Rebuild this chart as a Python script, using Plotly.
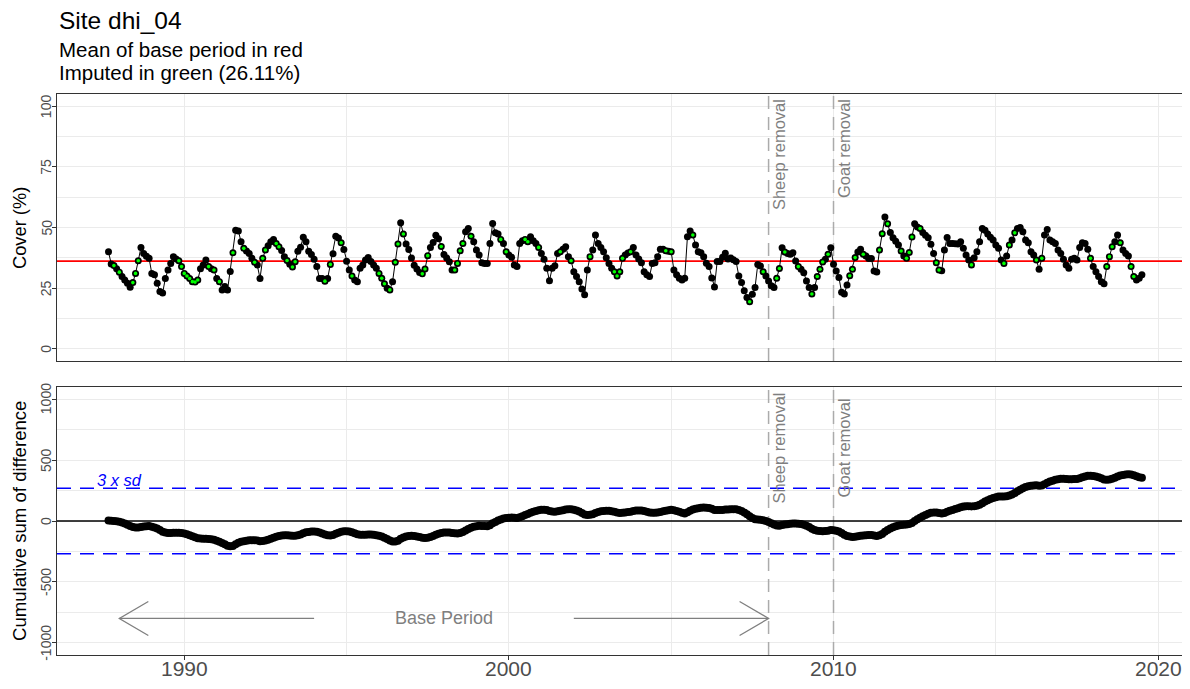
import numpy as np
import plotly.graph_objects as go

# ---------------- data ----------------
SITE = "dhi_04"
START_YEAR, START_MONTH = 1987, 9          # first monthly observation
COVER = [
    40.0, 35.0, 34.3, 33.0, 31.6, 29.8, 28.4, 27.0, 25.4, 27.3,
    31.1, 36.3, 41.8, 39.3, 38.2, 37.3, 31.1, 30.5, 27.0, 23.6,
    23.0, 29.0, 32.5, 35.2, 38.0, 37.0, 36.3, 33.9, 31.1, 30.0,
    29.0, 27.7, 27.5, 28.4, 33.0, 34.6, 36.6, 33.9, 33.0, 32.5,
    29.0, 27.7, 24.3, 25.7, 24.3, 31.9, 39.6, 48.9, 48.6, 44.1,
    41.4, 40.3, 39.3, 37.3, 35.7, 34.5, 29.0, 37.3, 40.7, 42.5,
    44.1, 45.1, 43.4, 42.1, 40.5, 38.0, 36.4, 34.9, 33.7, 35.9,
    40.2, 41.9, 46.0, 44.1, 40.2, 38.9, 36.9, 33.9, 29.0, 29.0,
    27.9, 29.0, 34.8, 39.2, 46.4, 45.7, 43.7, 40.9, 36.1, 32.5,
    30.0, 28.4, 27.7, 33.2, 34.6, 36.6, 37.6, 36.0, 34.6, 33.2,
    31.1, 29.1, 26.8, 25.0, 24.3, 27.7, 35.7, 43.2, 52.0, 47.3,
    43.2, 40.9, 37.4, 34.4, 32.9, 31.5, 30.9, 32.9, 38.4, 41.8,
    43.8, 46.8, 45.4, 42.2, 38.9, 37.4, 35.9, 32.5, 32.5, 35.2,
    40.4, 43.4, 48.2, 49.6, 46.4, 44.1, 40.7, 38.7, 35.5, 35.2,
    35.2, 43.4, 51.6, 47.8, 47.3, 45.1, 43.4, 40.0, 38.7, 37.7,
    34.6, 33.9, 43.4, 44.5, 45.1, 44.1, 46.2, 44.5, 43.4, 41.8,
    39.3, 36.9, 33.2, 28.1, 33.2, 34.2, 39.3, 40.0, 41.0, 42.1,
    38.0, 36.3, 31.8, 29.8, 27.7, 24.7, 22.3, 32.5, 38.0, 40.7,
    46.9, 43.4, 41.8, 40.0, 37.5, 35.2, 33.2, 31.8, 30.0, 31.8,
    37.3, 38.7, 39.5, 40.0, 41.8, 38.7, 37.0, 35.5, 31.8, 30.5,
    29.8, 35.2, 35.5, 38.0, 41.0, 41.0, 40.4, 40.2, 40.0, 32.5,
    30.5, 29.1, 28.4, 29.1, 46.2, 48.6, 46.9, 42.8, 40.0, 39.6,
    38.0, 35.3, 33.9, 29.2, 25.5, 36.0, 36.0, 37.7, 39.4, 37.0,
    37.4, 36.7, 36.0, 30.0, 27.3, 23.9, 21.2, 19.4, 22.5, 25.3,
    34.8, 34.1, 31.8, 30.0, 28.0, 26.0, 25.3, 29.1, 33.1, 41.7,
    39.9, 39.3, 39.0, 39.6, 36.2, 33.9, 32.8, 31.4, 28.0, 25.3,
    22.6, 25.3, 29.8, 32.8, 35.8, 36.9, 39.0, 41.7, 34.9, 32.1,
    29.4, 23.3, 22.6, 26.3, 30.1, 32.8, 37.6, 39.9, 41.0, 39.0,
    38.3, 37.2, 37.2, 32.1, 31.7, 40.7, 47.4, 54.3, 51.5, 47.9,
    45.8, 44.3, 42.8, 40.3, 38.3, 37.3, 39.7, 46.1, 51.5, 50.2,
    49.6, 47.9, 46.8, 45.8, 43.1, 39.3, 35.5, 32.5, 32.2, 40.7,
    45.9, 43.4, 43.4, 43.3, 43.2, 44.1, 41.4, 38.7, 36.6, 34.6,
    37.5, 40.0, 44.1, 49.6, 48.9, 47.3, 46.0, 44.8, 42.8, 41.4,
    36.6, 35.2, 38.3, 42.8, 44.8, 47.8, 49.6, 50.0, 48.2, 44.8,
    43.7, 40.0, 38.7, 36.6, 32.8, 37.3, 46.9, 49.2, 44.8, 44.1,
    43.4, 40.7, 39.3, 36.9, 34.6, 33.2, 36.9, 37.3, 36.6, 41.8,
    43.7, 43.4, 41.0, 37.3, 33.9, 31.8, 29.8, 27.7, 26.8, 33.9,
    38.0, 42.1, 44.1, 46.9, 43.7, 40.7, 39.3, 38.3, 33.9, 29.8,
    28.4, 29.1, 30.5,
]
IMPUTED = [
    2, 4, 9, 10, 11, 26, 27, 28, 29, 30, 31, 32, 33, 37, 39, 41, 46, 50, 54,
    57, 58, 62, 63, 66,
    68, 69, 80, 82, 86, 90, 100, 101, 102, 104, 106, 107, 109, 116, 117, 118,
    123, 128, 129, 130, 131, 134,
    145, 147, 154, 155, 159, 167, 171, 178, 187, 188, 189, 190, 193,
    206, 208, 216, 237, 242, 247, 248, 250, 255, 260, 262, 263, 264, 266,
    274, 275, 276,
    279, 285, 286, 288, 293, 295, 296, 297, 300, 306, 307, 319,
    331, 333, 335, 343, 345, 363, 369, 370, 371, 374, 378, 379,
]
BASE_END = 2008.0
EVENTS = [(2008.0, "Sheep removal"), (2010.0, "Goat removal")]
EVENT_LABEL_Y_BOTTOM = 600
SD3 = 268.0
ARROW_Y = -800.0
LEFT_ARROW = (1994.0, 1988.0)     # (start, tip)
RIGHT_ARROW = (2002.0, 2008.0)    # (start, tip)
BASE_LABEL_X = 1998.0
SD_LABEL_X = 1988.0
X_TICKS = [1990, 2000, 2010, 2020]
X_MINOR = [1985, 1995, 2005, 2015]
COVER_TICKS = [0, 25, 50, 75, 100]
COVER_MINOR = [12.5, 37.5, 62.5, 87.5]
CUSUM_TICKS = [-1000, -500, 0, 500, 1000]
CUSUM_MINOR = [-750, -250, 250, 750]

# ---------------- derived series ----------------
cover = np.array(COVER, dtype=float)
n = len(cover)
t = START_YEAR + (START_MONTH - 1 + np.arange(n)) / 12.0
base_mean = cover[t < BASE_END].mean()
cusum = np.cumsum(cover - base_mean)
imp = np.array(IMPUTED)
pct = 100.0 * len(imp) / n

# ---------------- geometry (page pixels; page has an 8px body margin) ----------------
OFF = 8
W, H = 1190 - OFF, 689 - OFF
ML, MR, MT, MB = 57 - OFF, 2, 94 - OFF, 34
PW = W - ML - MR
PH = H - MT - MB
TOP_PX = (94, 361)      # page px of the top panel
BOT_PX = (387, 655)     # page px of the bottom panel


def px_x(page_px):
    return (page_px - OFF - ML) / PW


def px_y(page_py):
    return (H - MB - (page_py - OFF)) / PH


top_dom = [px_y(TOP_PX[1]), px_y(TOP_PX[0])]
bot_dom = [px_y(BOT_PX[1]), px_y(BOT_PX[0])]
XR = [1986.08, 2020.92]
YR1 = [-5, 105]
YR2 = [-1100, 1100]

yr_per_px = (XR[1] - XR[0]) / PW
u_per_px = (YR2[1] - YR2[0]) / (BOT_PX[1] - BOT_PX[0])
head_dx = 29 * yr_per_px
head_dy = 17 * u_per_px

FONT = "Liberation Sans, Arial, sans-serif"
GRID = "#EBEBEB"
AX = "#333333"
TICKTXT = "#4D4D4D"
GREY = "#7F7F7F"

fig = go.Figure()


def ref_line(x, y, ax, color, width, dash="solid"):
    fig.add_trace(go.Scatter(x=x, y=y, mode="lines", line=dict(color=color, width=width, dash=dash),
                             xaxis=ax[0], yaxis=ax[1], showlegend=False, hoverinfo="skip"))


# reference lines (drawn under the data)
for ev, _ in EVENTS:
    ref_line([ev, ev], YR1, ("x", "y"), "#ABABAB", 1.5, "13px,8px")
    ref_line([ev, ev], YR2, ("x2", "y2"), "#ABABAB", 1.5, "13px,8px")
ref_line(XR, [base_mean, base_mean], ("x", "y"), "#FF0000", 1.8)
ref_line(XR, [0, 0], ("x2", "y2"), "black", 1.3)
for yv in (SD3, -SD3):
    ref_line(XR, [yv, yv], ("x2", "y2"), "#0000FF", 1.5, "14px,9px")

fig.add_trace(go.Scatter(x=t, y=cover, mode="lines+markers",
                         line=dict(color="black", width=1),
                         marker=dict(color="black", size=7),
                         xaxis="x", yaxis="y", showlegend=False, hoverinfo="skip"))
fig.add_trace(go.Scatter(x=t[imp], y=cover[imp], mode="markers",
                         marker=dict(color="#00FF00", size=3.6),
                         xaxis="x", yaxis="y", showlegend=False, hoverinfo="skip"))
fig.add_trace(go.Scatter(x=t, y=cusum, mode="lines+markers",
                         line=dict(color="black", width=5),
                         marker=dict(color="black", size=8),
                         xaxis="x2", yaxis="y2", showlegend=False, hoverinfo="skip"))

# Base-period arrows (open heads)
for start, tip in (LEFT_ARROW, RIGHT_ARROW):
    sgn = 1 if start > tip else -1
    ref_line([start, tip], [ARROW_Y, ARROW_Y], ("x2", "y2"), GREY, 1.3)
    ref_line([tip + sgn * head_dx, tip, tip + sgn * head_dx],
             [ARROW_Y + head_dy, ARROW_Y, ARROW_Y - head_dy], ("x2", "y2"), GREY, 1.3)

ann = []
ann.append(dict(text=f"Site {SITE}", xref="paper", yref="paper", x=0, y=px_y(20.8),
                xanchor="left", yanchor="middle", showarrow=False,
                font=dict(size=24.5, color="black", family=FONT)))
ann.append(dict(text="Mean of base period in red", xref="paper", yref="paper", x=0,
                y=px_y(49.7), xanchor="left", yanchor="middle", showarrow=False,
                font=dict(size=20.5, color="black", family=FONT)))
ann.append(dict(text=f"Imputed in green ({pct:.2f}%)", xref="paper", yref="paper", x=0,
                y=px_y(72.4), xanchor="left", yanchor="middle", showarrow=False,
                font=dict(size=20.5, color="black", family=FONT)))
ann.append(dict(text="Cover (%)", xref="paper", yref="paper", x=px_x(19.5),
                y=px_y(sum(TOP_PX) / 2), textangle=-90, xanchor="center", yanchor="middle",
                showarrow=False, font=dict(size=18.3, color="black", family=FONT)))
ann.append(dict(text="Cumulative sum of difference", xref="paper", yref="paper", x=px_x(19),
                y=px_y(sum(BOT_PX) / 2), textangle=-90, xanchor="center", yanchor="middle",
                showarrow=False, font=dict(size=18.6, color="black", family=FONT)))
# tick labels
for v in COVER_TICKS:
    ann.append(dict(text=str(v), xref="paper", yref="y", x=px_x(46), y=v, textangle=-90,
                    xanchor="center", yanchor="middle", showarrow=False,
                    font=dict(size=14, color=TICKTXT, family=FONT)))
for v in CUSUM_TICKS:
    ann.append(dict(text=str(v), xref="paper", yref="y2", x=px_x(46), y=v, textangle=-90,
                    xanchor="center", yanchor="middle", showarrow=False,
                    font=dict(size=14, color=TICKTXT, family=FONT)))
for v in X_TICKS:
    ann.append(dict(text=str(v), xref="x2", yref="paper", x=v, y=px_y(668.5),
                    xanchor="center", yanchor="middle", showarrow=False,
                    font=dict(size=21, color=TICKTXT, family=FONT)))
for ev, lab in EVENTS:
    ann.append(dict(text=lab, xref="x", yref="paper", x=ev, y=px_y(TOP_PX[0]), xanchor="left",
                    yanchor="top", xshift=-1, yshift=-3, textangle=-90, showarrow=False,
                    font=dict(size=16.5, color=GREY, family=FONT)))
    ann.append(dict(text=lab, xref="x2", yref="y2", x=ev, y=EVENT_LABEL_Y_BOTTOM,
                    xanchor="left", yanchor="middle", xshift=-1, textangle=-90,
                    showarrow=False, font=dict(size=16.5, color=GREY, family=FONT)))
ann.append(dict(text="<i>3 x sd</i>", xref="x2", yref="y2", x=SD_LABEL_X, y=SD3,
                xanchor="center", yanchor="bottom", yshift=-3, showarrow=False,
                font=dict(size=16.5, color="#0000FF", family=FONT)))
ann.append(dict(text="Base Period", xref="x2", yref="y2", x=BASE_LABEL_X, y=ARROW_Y,
                xanchor="center", yanchor="middle", showarrow=False,
                font=dict(size=18, color=GREY, family=FONT)))


def xax(bottom, anchor):
    return dict(domain=[0, 1], range=XR, anchor=anchor, tickmode="array", tickvals=X_TICKS,
                showticklabels=False, ticks="outside" if bottom else "",
                ticklen=4, tickwidth=1, tickcolor=AX,
                showgrid=True, gridcolor=GRID, gridwidth=1.4, zeroline=False,
                showline=True, mirror=True, linecolor=AX, linewidth=1,
                minor=dict(tickvals=X_MINOR, showgrid=True, gridcolor=GRID, gridwidth=0.7,
                           ticks=""),
                automargin=False, fixedrange=True)


def yax(dom, rng, ticks, minor, anchor):
    return dict(domain=dom, range=rng, anchor=anchor, tickmode="array", tickvals=ticks,
                showticklabels=False, ticks="outside", ticklen=4, tickwidth=1, tickcolor=AX,
                showgrid=True, gridcolor=GRID, gridwidth=1.4, zeroline=False,
                showline=True, mirror=True, linecolor=AX, linewidth=1,
                minor=dict(tickvals=minor, showgrid=True, gridcolor=GRID, gridwidth=0.7,
                           ticks=""),
                automargin=False, fixedrange=True)


fig.update_layout(
    width=W, height=H,
    margin=dict(l=ML, r=MR, t=MT, b=MB, pad=0),
    paper_bgcolor="white", plot_bgcolor="white",
    font=dict(family=FONT, color="black"),
    xaxis=xax(False, "y"),
    xaxis2=xax(True, "y2"),
    yaxis=yax(top_dom, YR1, COVER_TICKS, COVER_MINOR, "x"),
    yaxis2=yax(bot_dom, YR2, CUSUM_TICKS, CUSUM_MINOR, "x2"),
    annotations=ann, showlegend=False,
)
fig.write_html("out.html")
